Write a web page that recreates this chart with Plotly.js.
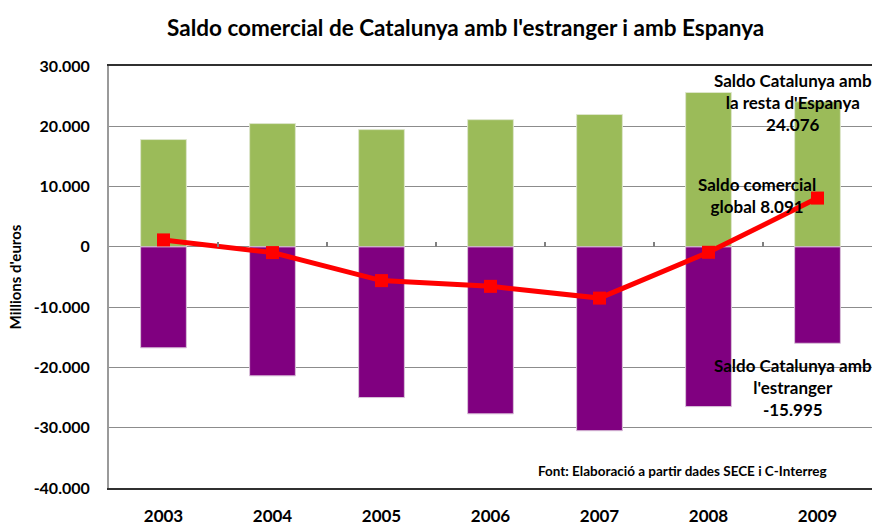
<!DOCTYPE html>
<html><head><meta charset="utf-8">
<script src="https://cdn.plot.ly/plotly-3.0.1.min.js"></script>
<style>html,body{margin:0;padding:0;background:#fff}#c{width:872px;height:527px}</style>
</head><body><div id="c"></div>
<script>
const years = ['2003','2004','2005','2006','2007','2008','2009'];
const saldoEspanya = [17800, 20450, 19450, 21100, 21950, 25600, 24076];
const saldoEstranger = [-16750, -21400, -25000, -27700, -30500, -26500, -15995];
const saldoGlobal = [1150, -950, -5600, -6550, -8500, -900, 8091];
const yTickVals = [30000, 20000, 10000, 0, -10000, -20000, -30000, -40000];
const yTickText = ['30.000','20.000','10.000','0','-10.000','-20.000','-30.000','-40.000'];

const F = 'Lato, "Open Sans", sans-serif';
const traces = [
  {type:'bar', x:years, y:saldoEspanya, name:"Saldo Catalunya amb la resta d'Espanya",
   marker:{color:'#9BBB59', line:{color:'#dde6cc', width:1}}, width:0.42},
  {type:'bar', x:years, y:saldoEstranger, name:"Saldo Catalunya amb l'estranger",
   marker:{color:'#800080', line:{color:'#d9c2d9', width:1}}, width:0.42},
  {type:'scatter', mode:'lines+markers', x:years, y:saldoGlobal, name:'Saldo comercial global',
   line:{color:'#FF0000', width:5}, marker:{symbol:'square', size:13, color:'#FF0000'}}
];
const layout = {
  width:872, height:527,
  margin:{l:109, r:0, t:66, b:39},
  paper_bgcolor:'#fff', plot_bgcolor:'#fff',
  barmode:'relative', showlegend:false,
  font:{family:F, color:'#000'},
  title:{text:"<b>Saldo comercial de Catalunya amb l'estranger i amb Espanya</b>",
         x:0.534, xanchor:'center', y:0.947, yanchor:'middle', font:{size:22.5, family:F, color:'#000'}},
  xaxis:{type:'category', showgrid:false, showline:true, mirror:true, linecolor:'#303030', linewidth:2,
         ticks:'', tickfont:{size:17, family:F, color:'#000', weight:'bold'}, ticklabelstandoff:12,
         range:[-0.5, 6.5]},
  xaxis2:{type:'category', overlaying:'x', matches:'x', anchor:'free', position:(0-(-40000))/70000,
          side:'bottom', showline:false, showgrid:false, showticklabels:false,
          ticks:'inside', tickson:'boundaries', ticklen:5, tickcolor:'#808080', tickwidth:2},
  yaxis:{range:[-40000, 30000], tickvals:yTickVals, ticktext:yTickText, showgrid:true,
         gridcolor:'#8c8c8c', gridwidth:1, zeroline:false, showline:true, linecolor:'#9a9a9a', linewidth:2,
         ticks:'', ticklabelstandoff:14, tickfont:{size:16, family:F, color:'#000', weight:'bold'},
         title:{text:"<b>Millions d'euros</b>", standoff:8, font:{size:15, family:F, color:'#000'}}},
  annotations:[
    {xref:'paper', yref:'paper', x:0.897, y:0.995, xanchor:'center', yanchor:'top', showarrow:false,
     text:"<b>Saldo Catalunya amb<br>la resta d'Espanya<br>24.076</b>", font:{size:17, family:F, color:'#000'}},
    {xref:'paper', yref:'paper', x:0.849, y:0.692, xanchor:'center', yanchor:'middle', showarrow:false,
     text:"<b>Saldo comercial<br>global 8.091</b>", font:{size:17, family:F, color:'#000'}},
    {xref:'paper', yref:'paper', x:0.897, y:0.237, xanchor:'center', yanchor:'middle', showarrow:false,
     text:"<b>Saldo Catalunya amb<br>l'estranger<br>-15.995</b>", font:{size:17, family:F, color:'#000'}},
    {xref:'paper', yref:'paper', x:0.752, y:0.04, xanchor:'center', yanchor:'middle', showarrow:false,
     text:"<b>Font: Elaboració a partir dades SECE i C-Interreg</b>", font:{size:13.5, family:F, color:'#000'}}
  ]
};
// overlay axis giving the boundary tick marks on the zero line
traces.push({type:'scatter', x:years, y:saldoGlobal, xaxis:'x2', mode:'none', hoverinfo:'skip', showlegend:false});
Plotly.newPlot('c', traces, layout, {displayModeBar:false, staticPlot:true});
</script></body></html>
